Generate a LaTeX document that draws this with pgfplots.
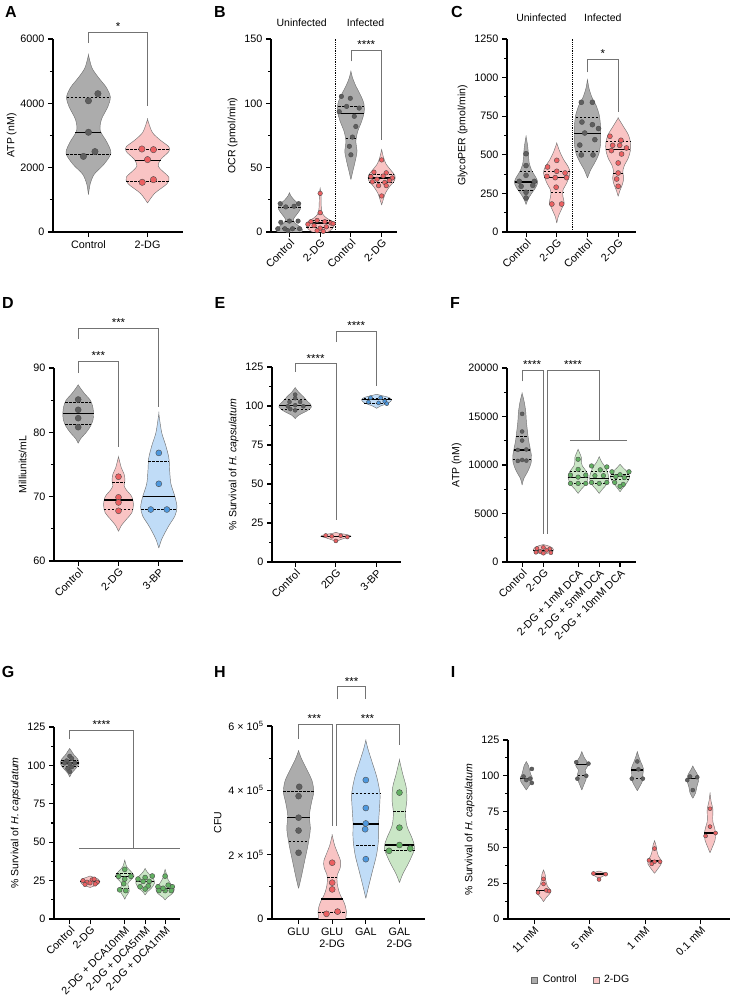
\documentclass[border=0pt]{standalone}
\usepackage{fontspec}
\setmainfont{Liberation Sans}
\usepackage{pgfplots}
\pgfplotsset{compat=1.18}
\definecolor{grayfill}{RGB}{172,172,172}
\definecolor{ptgray}{RGB}{95,95,95}
\definecolor{pinkfill}{RGB}{249,196,196}
\definecolor{ptred}{RGB}{236,96,98}
\definecolor{bluefill}{RGB}{192,220,247}
\definecolor{ptblue}{RGB}{78,152,222}
\definecolor{greenfill}{RGB}{202,230,198}
\definecolor{ptgreen}{RGB}{98,176,98}

\newcommand\vplot[2]{\addplot[#1] coordinates {#2};}
\newcommand\violin[3]{%
  \gdef\vL{}\gdef\vR{}%
  \foreach \yy/\ww in {#3}{%
    \pgfmathsetmacro\xl{#1-\ww}%
    \pgfmathsetmacro\xr{#1+\ww}%
    \xdef\vL{\vL(\xl,\yy)}%
    \xdef\vR{(\xr,\yy)\vR}%
  }%
  \xdef\vC{\vL\vR}%
  \def\next{\vplot{#2}}\expandafter\next\expandafter{\vC}%
}
\newcommand\pts[3]{%
  \gdef\vP{}%
  \foreach \dx/\yy in {#3}{\pgfmathsetmacro\xx{#1+\dx}\xdef\vP{\vP(\xx,\yy)}}%
  \def\next{\vplot{#2}}\expandafter\next\expandafter{\vP}%
}
\newcommand\mline[4]{%
  \pgfmathsetmacro\xl{#1-#2}\pgfmathsetmacro\xr{#1+#2}%
  \xdef\vC{(\xl,#3)(\xr,#3)}%
  \def\next{\vplot{#4}}\expandafter\next\expandafter{\vC}%
}

\pgfplotsset{
  prism/.style={scale only axis, anchor=south west, axis lines=left,
    axis line style={line width=1.5pt,-}, clip=false,
    tick style={black, line width=1.1pt}, tick align=outside,
    major tick length=5pt, minor tick length=3pt, minor y tick num=1,
    ticklabel style={font=\fontsize{10.8}{12}\selectfont},
    label style={font=\fontsize{10.5}{12}\selectfont},
    scaled y ticks=false,
    /pgf/number format/assume math mode=true, /pgf/number format/1000 sep={}},
  rotlab/.style={x tick label style={rotate=45, anchor=north east, inner sep=1pt}},
  vbase/.style={draw=black!55, line width=0.45pt, smooth, tension=0.5, mark=none},
  vgray/.style={vbase, fill=grayfill},
  vpink/.style={vbase, fill=pinkfill},
  vblue/.style={vbase, fill=bluefill},
  vgreen/.style={vbase, fill=greenfill},
  pbase/.style={only marks, mark=*, mark size=2.5pt},
  pgray/.style={pbase, mark options={fill=ptgray, draw=black!70, line width=0.4pt}},
  ppink/.style={pbase, mark options={fill=ptred, draw=black!70, line width=0.4pt}},
  pblue/.style={pbase, mark options={fill=ptblue, draw=black!70, line width=0.4pt}},
  pgreen/.style={pbase, mark options={fill=ptgreen, draw=black!70, line width=0.4pt}},
  med/.style={black, line width=1.3pt, mark=none},
  quart/.style={black, line width=0.6pt, dash pattern=on 2.5pt off 1.5pt, mark=none},
  brk/.style={black!55, line width=0.7pt, mark=none},
}
\tikzset{star/.style={anchor=south, inner sep=1.5pt, font=\fontsize{11.5}{11.5}\selectfont},
  grp/.style={font=\fontsize{10.5}{12}\selectfont},
  plab/.style={font=\bfseries\fontsize{16}{16}\selectfont}}

\begin{document}
\begin{tikzpicture}[x=1pt,y=1pt]
\useasboundingbox (0,0) rectangle (733,1000);

% ---------------- A
\begin{axis}[prism, at={(53pt,768pt)}, width=130pt, height=193pt,
  xmin=-0.6, xmax=1.6, ymin=0, ymax=6000, ytick={0,2000,4000,6000},
  xtick={0,1}, xticklabels={Control,2-DG}, ylabel={ATP (nM)},
  ylabel style={yshift=-3pt}]
\violin{0}{vgray}{1160/0, 1500/0.03, 1800/0.1, 2100/0.26, 2450/0.38, 2800/0.31, 3150/0.2, 3500/0.22, 3900/0.33, 4200/0.37, 4500/0.3, 4800/0.17, 5100/0.06, 5500/0}
\mline{0}{0.37}{4200}{quart}\mline{0}{0.22}{3100}{med}\mline{0}{0.38}{2430}{quart}
\pts{0}{pgray, mark size=3.2pt}{0.16/4300, 0/4080, 0/3100, 0.11/2500, -0.085/2350}
\violin{1}{vpink}{900/0, 1200/0.12, 1500/0.33, 1700/0.36, 1900/0.25, 2050/0.18, 2250/0.22, 2500/0.36, 2650/0.36, 2850/0.22, 3100/0.08, 3500/0}
\mline{1}{0.36}{2560}{quart}\mline{1}{0.22}{2230}{med}\mline{1}{0.36}{1590}{quart}
\pts{1}{ppink, mark size=3.2pt}{-0.096/2580, 0.1/2560, 0/2250, -0.09/1545, 0.1/1627}
\addplot[brk] coordinates {(0,5874)(0,6216)(1,6216)(1,3906)};
\node[star] at (axis cs:0.5,6216) {*};
\end{axis}

% ---------------- B
\begin{axis}[prism, rotlab, at={(271pt,768pt)}, width=126pt, height=193pt,
  xmin=-0.6, xmax=3.5, ymin=0, ymax=150, ytick={0,50,100,150},
  xtick={0,1,2,3}, xticklabels={Control,2-DG,Control,2-DG}, ylabel={OCR (pmol/min)}]
\addplot[densely dotted, line width=1.2pt, mark=none] coordinates {(1.5,0)(1.5,150)};
\violin{0}{vgray}{0/0.4, 2/0.42, 4/0.35, 7/0.18, 10/0.13, 14/0.25, 18/0.36, 21/0.33, 25/0.15, 28/0.05, 30.5/0}
\mline{0}{0.36}{19}{quart}\mline{0}{0.15}{8}{med}\mline{0}{0.38}{3}{quart}
\pts{0}{pgray, mark size=2.3pt}{-0.3/22, 0.3/22, -0.12/19.5, 0.15/20, -0.28/7.5, 0.28/8.5, 0/8.5, -0.38/2.5, -0.15/2.5, 0.1/2.5, 0.33/2.5, -0.05/1}
\violin{1}{vpink}{0/0.25, 2/0.38, 5/0.45, 8/0.4, 11/0.2, 14/0.08, 18/0.04, 24/0.03, 30/0.025, 34/0}
\mline{1}{0.36}{9}{quart}\mline{1}{0.42}{7}{med}\mline{1}{0.45}{4}{quart}
\pts{1}{ppink, mark size=2.3pt}{0/30, 0/15, -0.3/8, -0.1/9, 0.15/8, 0.35/7, -0.4/6, 0.42/6.5, -0.2/5, 0.2/4, 0/3, -0.1/1, 0.1/0.5}
\violin{2}{vgray}{40.7/0, 47/0.06, 55/0.14, 63/0.2, 70/0.16, 78/0.22, 86/0.35, 93/0.43, 100/0.42, 107/0.3, 114/0.15, 120/0.05, 125/0}
\mline{2}{0.41}{98}{quart}\mline{2}{0.43}{92}{med}\mline{2}{0.17}{73}{quart}
\pts{2}{pgray, mark size=2.3pt}{-0.31/105.4, -0.02/103.9, -0.14/97.6, 0.27/96.3, -0.38/93.5, 0.11/89.9, 0.16/82, 0.05/73.8, -0.05/66.6, 0/60}
\violin{3}{vpink}{21/0, 25/0.05, 30/0.12, 35/0.25, 40/0.42, 44/0.43, 48/0.3, 53/0.14, 58/0.06, 64/0}
\mline{3}{0.4}{45}{quart}\mline{3}{0.43}{42}{med}\mline{3}{0.4}{39}{quart}
\pts{3}{ppink, mark size=2.3pt}{0/56, -0.25/46.5, 0.15/46, -0.35/43, 0.05/43.5, 0.35/42, -0.15/41, 0.25/40, -0.3/39, 0.1/38.5, -0.1/36, 0.15/36, 0/28}
\addplot[brk] coordinates {(2,132.6)(2,141)(3,141)(3,71.7)};
\node[star] at (axis cs:2.5,141) {****};
\node[grp] at (axis cs:0.4,163) {Uninfected};
\node[grp] at (axis cs:2.48,163) {Infected};
\end{axis}

% ---------------- C
\begin{axis}[prism, rotlab, at={(507pt,768pt)}, width=129pt, height=193pt,
  xmin=-0.62, xmax=3.58, ymin=0, ymax=1250, ytick={0,250,500,750,1000,1250},
  xtick={0,1,2,3}, xticklabels={Control,2-DG,Control,2-DG}, ylabel={GlycoPER (pmol/min)}]
\addplot[densely dotted, line width=1.2pt, mark=none] coordinates {(1.5,0)(1.5,1250)};
\violin{0}{vgray}{177/0, 210/0.06, 250/0.18, 290/0.32, 325/0.38, 360/0.3, 400/0.18, 450/0.1, 500/0.08, 560/0.05, 620/0}
\mline{0}{0.2}{390}{quart}\mline{0}{0.37}{323}{med}\mline{0}{0.26}{268}{quart}
\pts{0}{pgray, mark size=2.5pt}{0/507, 0/430, 0/367, -0.22/328, 0.27/328, 0.22/302, -0.16/296, 0/257, 0/220}
\violin{1}{vpink}{58/0, 100/0.05, 150/0.16, 190/0.24, 230/0.2, 270/0.2, 320/0.33, 380/0.43, 420/0.38, 470/0.22, 520/0.1, 576/0}
\mline{1}{0.42}{395}{quart}\mline{1}{0.4}{355}{med}\mline{1}{0.2}{255}{quart}
\pts{1}{ppink, mark size=2.5pt}{0/464, -0.3/421, 0/393, 0.27/382, -0.32/360, -0.05/352, 0.32/352, -0.02/290, -0.16/181, 0.16/181}
\violin{2}{vgray}{350/0, 400/0.1, 450/0.24, 500/0.36, 560/0.42, 640/0.43, 700/0.42, 760/0.38, 820/0.28, 870/0.15, 930/0.05, 987/0}
\mline{2}{0.38}{745}{quart}\mline{2}{0.43}{638}{med}\mline{2}{0.38}{520}{quart}
\pts{2}{pgray, mark size=2.5pt}{-0.2/840, 0.16/840, -0.18/712, 0.16/695, 0.36/670, -0.09/641, 0.24/598, -0.25/563, -0.2/499, 0.18/499}
\violin{3}{vpink}{231/0, 270/0.06, 310/0.14, 350/0.18, 390/0.15, 430/0.2, 480/0.33, 530/0.4, 580/0.4, 630/0.33, 680/0.18, 738/0}
\mline{3}{0.4}{590}{quart}\mline{3}{0.4}{535}{med}\mline{3}{0.16}{380}{quart}
\pts{3}{ppink, mark size=2.5pt}{-0.27/620, 0.09/594, -0.18/561, 0.05/561, 0.27/544, -0.22/527, 0.11/505, 0/447, 0/382, -0.05/343, 0/296}
\addplot[brk] coordinates {(2,1034)(2,1120)(3,1120)(3,777)};
\node[star] at (axis cs:2.5,1120) {*};
\node[grp] at (axis cs:0.5,1386) {Uninfected};
\node[grp] at (axis cs:2.5,1386) {Infected};
\end{axis}

% ---------------- D
\begin{axis}[prism, rotlab, at={(54pt,439pt)}, width=129pt, height=193pt,
  xmin=-0.6, xmax=2.6, ymin=60, ymax=90, ytick={60,70,80,90},
  xtick={0,1,2}, xticklabels={Control,2-DG,3-BP}, ylabel={Milliunits/mL}]
\violin{0}{vgray}{78.3/0, 79/0.06, 80/0.2, 81/0.31, 82/0.37, 83/0.38, 84/0.36, 85/0.3, 86/0.16, 87/0.04, 87.4/0}
\mline{0}{0.32}{84.7}{quart}\mline{0}{0.38}{82.9}{med}\mline{0}{0.32}{81.2}{quart}
\pts{0}{pgray, mark size=3pt}{0/85.1, 0/83.5, 0/82.2, 0/80.8}
\violin{1}{vpink}{64.6/0, 65.5/0.07, 66.5/0.2, 67.5/0.33, 68.7/0.37, 70/0.33, 71/0.2, 71.7/0.14, 72.5/0.16, 73.5/0.14, 74.5/0.07, 76.2/0}
\mline{1}{0.15}{72.2}{quart}\mline{1}{0.35}{69.5}{med}\mline{1}{0.36}{68.1}{quart}
\pts{1}{ppink, mark size=3pt}{0/73.1, 0/69.9, 0/69.1, 0/67.8}
\violin{2}{vblue}{62/0, 63.5/0.08, 65.5/0.25, 67/0.4, 68.4/0.45, 70/0.4, 72/0.3, 74/0.27, 76/0.25, 78/0.17, 80/0.07, 82.9/0}
\mline{2}{0.26}{75.5}{quart}\mline{2}{0.4}{70}{med}\mline{2}{0.44}{68}{quart}
\pts{2}{pblue, mark size=3pt}{0/76.8, 0/72, -0.2/68, 0.2/68}
\addplot[brk] coordinates {(0,89.2)(0,91)(1,91)(1,77.7)};
\node[star] at (axis cs:0.5,91) {***};
\addplot[brk] coordinates {(0,94.5)(0,96.2)(2,96.2)(2,83.9)};
\node[star] at (axis cs:1,96.2) {***};
\end{axis}

% ---------------- E
\begin{axis}[prism, rotlab, at={(272pt,438pt)}, width=129pt, height=195pt,
  xmin=-0.57, xmax=2.6, ymin=0, ymax=125, ytick={0,25,50,75,100,125},
  xtick={0,1,2}, xticklabels={Control,2DG,3-BP}, ylabel={\% Survival of \textit{H. capsulatum}}]
\violin{0}{vgray}{91.9/0, 94/0.08, 97/0.3, 99.4/0.4, 101/0.38, 103/0.3, 106/0.2, 109/0.08, 111.8/0}
\mline{0}{0.28}{104}{quart}\mline{0}{0.4}{100.3}{med}\mline{0}{0.35}{98}{quart}
\pts{0}{pgray, mark size=2pt}{0/107.3, 0/105, -0.14/102.6, 0.12/102.6, -0.18/99.8, 0.2/99.8, 0/100.5, -0.12/98, 0/97.2}
\violin{1}{vpink}{12.5/0, 14/0.08, 15.5/0.25, 16.5/0.37, 17.5/0.28, 18.5/0.06, 19/0}
\mline{1}{0.37}{16.5}{med}
\pts{1}{ppink, mark size=2pt}{-0.25/17, 0.28/16, 0/13.5, -0.1/16.5, 0.12/16.8}
\violin{2}{vblue}{98.5/0, 100/0.1, 102/0.3, 104/0.37, 105.5/0.3, 106.5/0.15, 107.5/0}
\mline{2}{0.32}{105}{quart}\mline{2}{0.37}{104}{med}\mline{2}{0.3}{102}{quart}
\pts{2}{pblue, mark size=2pt}{-0.15/105.3, 0.1/105.3, -0.2/102.5, 0.05/102, 0.2/103, 0.25/101.5}
\addplot[brk] coordinates {(0,121.8)(0,127.1)(1,127.1)(1,26.7)};
\node[star] at (axis cs:0.5,127.1) {****};
\addplot[brk] coordinates {(1,141)(1,148)(2,148)(2,113)};
\node[star] at (axis cs:1.5,148) {****};
\end{axis}

% ---------------- F
\begin{axis}[prism, rotlab, at={(507pt,438pt)}, width=129pt, height=194pt,
  xmin=-0.71, xmax=5.35, ymin=0, ymax=20000, ytick={0,5000,10000,15000,20000},
  xtick={0,1,2.63,3.62,4.6}, xticklabels={Control,2-DG,2-DG + 1mM DCA,2-DG + 5mM DCA,2-DG + 10mM DCA},
  ylabel={ATP (nM)}]
\violin{0}{vgray}{7930/0, 8600/0.08, 9400/0.28, 10200/0.42, 10900/0.44, 11700/0.38, 12600/0.3, 13500/0.25, 14500/0.2, 15500/0.17, 16500/0.1, 17400/0}
\mline{0}{0.27}{13000}{quart}\mline{0}{0.38}{11550}{med}\mline{0}{0.44}{10600}{quart}
\pts{0}{pgray, mark size=2pt}{0/15270, 0/13450, 0/12520, -0.2/11550, 0.2/11600, 0/10520, -0.2/10420, 0.2/10450}
\violin{1}{vpink}{750/0, 900/0.2, 1100/0.45, 1300/0.47, 1500/0.4, 1650/0.25, 1800/0}
\mline{1}{0.47}{1200}{med}
\pts{1}{ppink, mark size=2pt}{-0.3/1400, 0/1500, 0.3/1350, -0.15/1100, 0.15/1200, -0.35/1000, 0.35/950, 0/900}
\violin{2.63}{vgreen}{7070/0, 7500/0.15, 8000/0.35, 8700/0.47, 9300/0.4, 9900/0.2, 10400/0.15, 10800/0.15, 11200/0.08, 11620/0}
\mline{2.63}{0.4}{9300}{quart}\mline{2.63}{0.47}{8700}{med}\mline{2.63}{0.37}{8100}{quart}
\pts{2.63}{pgreen, mark size=2.3pt}{0/10590, 0/9550, -0.36/8960, 0.36/8960, 0/8750, -0.36/8100, 0/8100, 0.36/8100}
\violin{3.62}{vgreen}{7070/0, 7500/0.15, 8000/0.35, 8600/0.45, 9200/0.4, 9800/0.28, 10300/0.12, 10860/0}
\mline{3.62}{0.4}{9300}{quart}\mline{3.62}{0.45}{8600}{med}\mline{3.62}{0.37}{8150}{quart}
\pts{3.62}{pgreen, mark size=2.3pt}{-0.36/9900, 0.05/9500, 0.36/9800, -0.2/8900, 0.2/8900, -0.36/8200, 0/8100, 0.36/8200}
\violin{4.6}{vgreen}{7240/0, 7600/0.12, 8100/0.3, 8700/0.45, 9200/0.38, 9700/0.15, 10070/0}
\mline{4.6}{0.42}{9000}{quart}\mline{4.6}{0.45}{8800}{med}\mline{4.6}{0.43}{8500}{quart}
\pts{4.6}{pgreen, mark size=2.3pt}{-0.38/9300, 0.42/9300, 0/9000, -0.2/8800, 0.2/8700, -0.25/8200, 0.15/8000, 0/7800}
\addplot[brk] coordinates {(0,18620)(0,19760)(1,19760)(1,2930)};
\node[star] at (axis cs:0.47,19760) {****};
\addplot[brk] coordinates {(1.18,2930)(1.18,19760)(3.62,19760)(3.62,12550)};
\addplot[brk] coordinates {(2.24,12550)(4.91,12550)};
\node[star] at (axis cs:2.39,19760) {****};
\end{axis}

% ---------------- G
\begin{axis}[prism, rotlab, at={(54pt,81pt)}, width=126pt, height=192pt,
  xmin=-0.77, xmax=5.41, ymin=0, ymax=125, ytick={0,25,50,75,100,125},
  xtick={0,1,2.7,3.7,4.68}, xticklabels={Control,2-DG,2-DG + DCA10mM,2-DG + DCA5mM,2-DG + DCA1mM},
  ylabel={\% Survival of \textit{H. capsulatum}}]
\violin{0}{vgray}{92.5/0, 95/0.1, 98/0.3, 101/0.45, 104/0.4, 107/0.2, 109.5/0.08, 111/0}
\mline{0}{0.42}{103}{quart}\mline{0}{0.45}{101.5}{med}\mline{0}{0.4}{99.5}{quart}
\pts{0}{pgray, mark size=2.2pt}{0/106, 0.1/104.5, -0.15/103, -0.25/101.5, 0.25/101.5, 0/101, 0.1/99, -0.1/98, 0/96}
\violin{1}{vpink}{20.5/0, 21.5/0.2, 23/0.42, 24.5/0.48, 26/0.4, 27/0.2, 28/0}
\mline{1}{0.48}{24.5}{med}
\pts{1}{ppink, mark size=2.2pt}{-0.35/25, -0.15/24, 0.1/25.5, 0.35/24, -0.25/22.5, 0.25/22.8, 0/23.5, 0.2/26}
\violin{2.7}{vgreen}{12.8/0, 15/0.08, 18/0.22, 20.5/0.2, 23/0.15, 25.5/0.3, 28/0.46, 31/0.3, 34/0.1, 38.3/0}
\mline{2.7}{0.42}{29.5}{quart}\mline{2.7}{0.46}{27.5}{med}\mline{2.7}{0.21}{20}{quart}
\pts{2.7}{pgreen, mark size=2.5pt}{0/32.3, -0.3/27.8, 0.3/27.8, 0/26, -0.05/23, -0.25/19, 0.05/18.5}
\violin{3.7}{vgreen}{15.6/0, 17.5/0.1, 20/0.3, 23/0.45, 26/0.42, 28.5/0.25, 31/0.08, 32.9/0}
\mline{3.7}{0.45}{24.5}{med}
\pts{3.7}{pgreen, mark size=2.5pt}{0.35/28, -0.35/26, 0/27, -0.1/24.5, 0.2/24.5, -0.25/21, 0.15/21.5, 0/19.5}
\violin{4.68}{vgreen}{12.3/0, 14/0.1, 16.5/0.35, 19/0.45, 21.5/0.35, 24/0.22, 27/0.1, 30/0.05, 32.3/0}
\mline{4.68}{0.45}{19.8}{med}
\pts{4.68}{pgreen, mark size=2.5pt}{0/27.9, -0.35/21, 0.35/21, -0.3/18.5, 0/18.5, 0.3/18.5, -0.1/20, 0.15/22}
\addplot[brk] coordinates {(0,117)(0,122.8)(3.11,122.8)(3.11,45.9)};
\addplot[brk] coordinates {(0.46,45.9)(5.41,45.9)};
\node[star] at (axis cs:1.56,122.8) {****};
\end{axis}

% ---------------- H
\begin{axis}[prism, at={(272pt,81pt)}, width=153pt, height=193pt,
  xmin=-0.79, xmax=3.76, ymin=0, ymax=6, ytick={0,2,4,6},
  yticklabels={0, 2 × 10\textsuperscript{5}, 4 × 10\textsuperscript{5}, 6 × 10\textsuperscript{5}},
  xtick={0,1,2,3}, xticklabels={GLU,{GLU\\2-DG},GAL,{GAL\\2-DG}},
  x tick label style={align=center}, ylabel={CFU}]
\violin{0}{vgray}{0.95/0, 1.3/0.08, 1.8/0.18, 2.3/0.28, 2.8/0.35, 3.2/0.32, 3.6/0.38, 3.95/0.45, 4.3/0.4, 4.7/0.22, 5.0/0.08, 5.23/0}
\mline{0}{0.45}{3.96}{quart}\mline{0}{0.33}{3.15}{med}\mline{0}{0.29}{2.41}{quart}
\pts{0}{pgray, mark size=3pt}{0.02/4.11, 0/3.82, 0/3.15, 0/2.75, 0/2.06}
\violin{1}{vpink}{0/0.4, 0.25/0.42, 0.5/0.36, 0.8/0.22, 1.1/0.15, 1.35/0.15, 1.6/0.24, 1.8/0.25, 2.0/0.18, 2.3/0.07, 2.61/0}
\mline{1}{0.15}{1.3}{quart}\mline{1}{0.33}{0.62}{med}\mline{1}{0.41}{0.2}{quart}
\pts{1}{ppink, mark size=3pt}{0/1.75, 0/1.13, 0/0.92, -0.17/0.16, 0.16/0.23}
\violin{2}{vblue}{0.64/0, 1.0/0.08, 1.5/0.2, 2.0/0.32, 2.5/0.38, 3.0/0.38, 3.5/0.41, 3.9/0.42, 4.4/0.33, 4.9/0.18, 5.3/0.06, 5.56/0}
\mline{2}{0.42}{3.9}{quart}\mline{2}{0.38}{2.95}{med}\mline{2}{0.28}{2.3}{quart}
\pts{2}{pblue, mark size=3pt}{0/4.32, 0/3.45, 0/2.97, -0.02/2.79, 0/1.86}
\violin{3}{vgreen}{1.13/0, 1.4/0.1, 1.8/0.3, 2.2/0.45, 2.5/0.38, 2.9/0.22, 3.3/0.18, 3.7/0.22, 4.1/0.2, 4.5/0.1, 4.94/0}
\mline{3}{0.18}{3.35}{quart}\mline{3}{0.44}{2.3}{med}\mline{3}{0.45}{2.15}{quart}
\pts{3}{pgreen, mark size=3pt}{0/3.93, 0/2.84, 0/2.30, -0.31/2.12, 0.32/2.19}
\addplot[brk] coordinates {(0,5.59)(0,6.06)(1,6.06)(1,2.90)};
\node[star] at (axis cs:0.47,6.06) {***};
\addplot[brk] coordinates {(1.11,2.9)(1.11,6.06)(3,6.06)(3,5.41)};
\node[star] at (axis cs:2.05,6.06) {***};
\addplot[brk] coordinates {(1.14,6.83)(1.14,7.22)(2,7.22)(2,6.83)};
\node[star] at (axis cs:1.58,7.22) {***};
\end{axis}

% ---------------- I
\begin{axis}[prism, rotlab, at={(508pt,81pt)}, width=222pt, height=179pt,
  xmin=-0.47, xmax=3.53, ymin=0, ymax=125, ytick={0,25,50,75,100,125},
  xtick={0,1,2,3}, xticklabels={11 mM,5 mM,1 mM,0.1 mM},
  ylabel={\% Survival of \textit{H. capsulatum}},
  legend columns=2,
  legend image code/.code={\draw[#1, line width=0.5pt] (0pt,-3pt) rectangle (6pt,3pt);},
  legend style={at={(0.33,-0.34)}, anchor=center, draw=none, fill=none,
    font=\fontsize{10.5}{12}\selectfont,
    /tikz/every odd column/.append style={column sep=3pt},
    /tikz/every even column/.append style={column sep=14pt}}]
\addlegendimage{fill=grayfill, draw=black!60}
\addlegendentry{Control}
\addlegendimage{fill=pinkfill, draw=black!60}
\addlegendentry{2-DG}
\violin{-0.14}{vgray}{90.1/0, 93/0.05, 96/0.1, 98.5/0.11, 101/0.08, 104/0.06, 107/0.04, 109.9/0}
\mline{-0.14}{0.11}{98}{med}
\pts{-0.14}{pgray, mark size=2pt}{-0.05/99.5, 0.1/104.8, 0.07/98, 0.1/95, 0/97}
\violin{0.17}{vpink}{12.1/0, 15/0.05, 18/0.12, 20/0.13, 23/0.07, 27/0.04, 31/0.03, 34.2/0}
\mline{0.17}{0.13}{20}{med}
\pts{0.17}{ppink, mark size=2pt}{0/28, 0/24.5, -0.1/18.5, 0.05/20, 0.1/19.5}
\violin{0.86}{vgray}{90.1/0, 94/0.04, 98/0.08, 101/0.08, 104/0.06, 107/0.11, 110/0.09, 113/0.04, 116.9/0}
\mline{0.86}{0.11}{108}{med}\mline{0.86}{0.07}{100}{quart}
\pts{0.86}{pgray, mark size=2pt}{-0.1/109.5, 0.12/108.5, -0.08/98, 0.08/100}
\violin{1.17}{vpink}{27/0, 29/0.03, 30.5/0.1, 31.5/0.13, 32.5/0.08, 33.5/0}
\mline{1.17}{0.13}{31.5}{med}
\pts{1.17}{ppink, mark size=2pt}{0/27.6, -0.1/31.8, 0.12/31.3}
\violin{1.86}{vgray}{89.6/0, 93/0.05, 97/0.1, 101/0.1, 105/0.11, 109/0.07, 113/0.03, 116.9/0}
\mline{1.86}{0.11}{104}{med}\mline{1.86}{0.1}{98}{quart}
\pts{1.86}{pgray, mark size=2pt}{0/110, 0.02/104.5, -0.1/98, 0.1/98}
\violin{2.17}{vpink}{31.9/0, 35/0.06, 38.5/0.12, 41/0.12, 44/0.07, 48/0.04, 51/0.03, 54.7/0}
\mline{2.17}{0.12}{40.5}{med}
\pts{2.17}{ppink, mark size=2pt}{0/49.2, -0.1/41, 0/40, 0.1/40, -0.05/38.5}
\violin{2.86}{vgray}{84.3/0, 88/0.05, 92/0.07, 96/0.1, 99.5/0.1, 102/0.07, 104.5/0.03, 106.9/0}
\mline{2.86}{0.1}{98}{med}
\pts{2.86}{pgray, mark size=2pt}{-0.05/99.5, 0.08/99, -0.1/97, 0/90}
\violin{3.17}{vpink}{46.3/0, 50/0.04, 55/0.09, 59.8/0.1, 64/0.08, 68/0.05, 73/0.05, 77/0.05, 82/0.02, 87.8/0}
\mline{3.17}{0.1}{60}{med}
\pts{3.17}{ppink, mark size=2pt}{0/77, 0/64.5, -0.08/58, 0.1/60}
\end{axis}

\node[plab] at (11,988) {A};
\node[plab] at (220,988) {B};
\node[plab] at (457,988) {C};
\node[plab] at (8,697) {D};
\node[plab] at (220,697) {E};
\node[plab] at (455,697) {F};
\node[plab] at (8,328) {G};
\node[plab] at (220,328) {H};
\node[plab] at (453,328) {I};
\end{tikzpicture}
\end{document}
